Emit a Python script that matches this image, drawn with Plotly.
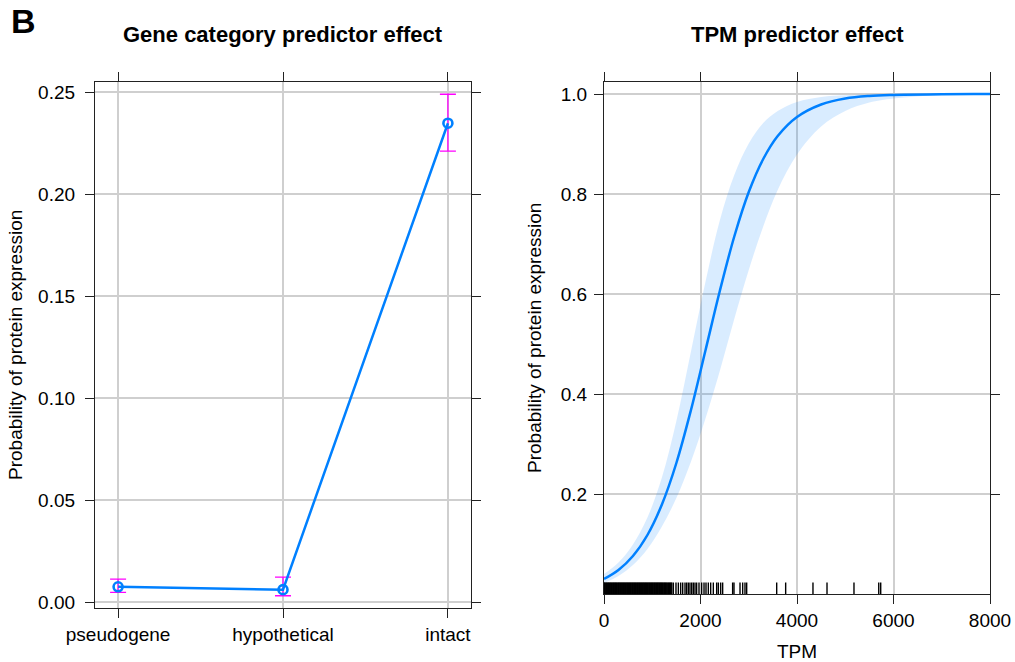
import plotly.graph_objects as go

# ---- Gene category effect (left panel) ----
categories = ["pseudogene", "hypothetical", "intact"]
cat_fit = [0.0076, 0.0062, 0.2348]
cat_lower = [0.0049, 0.0032, 0.2211]
cat_upper = [0.0114, 0.0123, 0.2490]

# ---- TPM effect (right panel) ----
tpm_grid = [0, 300, 600, 900, 1200, 1500, 1800, 2100, 2400, 2700, 3000,
            3300, 3600, 4000, 4500, 5000, 5500, 6000, 7000, 8000]
tpm_fit = [0.030, 0.048, 0.076, 0.118, 0.179, 0.262, 0.367, 0.486, 0.606,
           0.715, 0.804, 0.870, 0.916, 0.954, 0.979, 0.991, 0.996, 0.998,
           0.9997, 0.9999]
tpm_lower = [0.022, 0.036, 0.058, 0.090, 0.135, 0.192, 0.264, 0.350, 0.446,
             0.550, 0.648, 0.735, 0.808, 0.879, 0.935, 0.966, 0.983, 0.991,
             0.998, 0.9994]
tpm_upper = [0.040, 0.063, 0.099, 0.153, 0.233, 0.346, 0.484, 0.623, 0.747,
             0.838, 0.901, 0.942, 0.966, 0.984, 0.994, 0.9975, 0.999, 0.9996,
             1.0, 1.0]

# observed TPM values shown as a rug along the x axis
tpm_rug = [0, 12, 25, 41, 55, 68, 84, 97, 110, 126, 140, 153, 170, 184, 199,
           212, 228, 241, 256, 270, 286, 300, 314, 329, 343, 358, 372, 388,
           401, 417, 430, 446, 460, 475, 489, 504, 519, 533, 548, 562, 577,
           592, 606, 621, 636, 650, 665, 680, 694, 709, 724, 738, 753, 768,
           782, 797, 812, 826, 841, 856, 870, 885, 900, 915, 930, 944, 959,
           974, 989, 1003, 1018, 1033, 1048, 1062, 1077, 1092, 1107, 1121,
           1136, 1151, 1166, 1180, 1195, 1210, 1226, 1241, 1258, 1272, 1290,
           1305, 1322, 1340, 1356, 1374, 1390, 1405,
           1437, 1492, 1541, 1589, 1631, 1679, 1713, 1748, 1782, 1817, 1851,
           1886, 1920, 1969, 2024, 2073, 2114, 2162, 2211, 2266, 2335, 2370,
           2418, 2459, 2666, 2694, 2819, 2874, 2922, 2957, 3579, 3765, 4331,
           4622, 5181, 5694, 5735]

left_y_ticks = [0.00, 0.05, 0.10, 0.15, 0.20, 0.25]
right_y_ticks = [0.2, 0.4, 0.6, 0.8, 1.0]
right_x_ticks = [0, 2000, 4000, 6000, 8000]

# ---- styling ----
W, H = 1015, 662
BLUE = "#0080FF"
BAND = "rgba(0,128,255,0.15)"
MAGENTA = "#FF00FF"
GRID = "#CFCFCF"
FRAME = "#222222"
FONT = "Liberation Sans, Arial, sans-serif"
TICK_SIZE = 19
RUG_HEIGHT = 0.023


def px_x(x):
    return x / W


def px_y(y):
    return 1 - y / H


fig = go.Figure()

# left panel: fitted line with confidence bars
fig.add_trace(go.Scatter(
    x=categories, y=cat_fit, mode="lines+markers",
    line=dict(color=BLUE, width=2.5),
    marker=dict(symbol="circle-open", size=9, color=BLUE,
                line=dict(color=BLUE, width=2.6)),
    error_y=dict(type="data", symmetric=False,
                 array=[u - f for u, f in zip(cat_upper, cat_fit)],
                 arrayminus=[f - l for f, l in zip(cat_fit, cat_lower)],
                 color=MAGENTA, thickness=1.3, width=8),
    xaxis="x", yaxis="y", showlegend=False, hoverinfo="skip",
))

# right panel: confidence band
fig.add_trace(go.Scatter(
    x=tpm_grid, y=tpm_lower, mode="lines", line=dict(width=0, shape="spline"),
    xaxis="x2", yaxis="y2", showlegend=False, hoverinfo="skip",
))
fig.add_trace(go.Scatter(
    x=tpm_grid, y=tpm_upper, mode="lines", line=dict(width=0, shape="spline"),
    fill="tonexty", fillcolor=BAND,
    xaxis="x2", yaxis="y2", showlegend=False, hoverinfo="skip",
))
# fitted curve
fig.add_trace(go.Scatter(
    x=tpm_grid, y=tpm_fit, mode="lines",
    line=dict(color=BLUE, width=2.5, shape="spline"),
    xaxis="x2", yaxis="y2", showlegend=False, hoverinfo="skip",
))
# rug
rug_x, rug_y = [], []
for v in tpm_rug:
    rug_x += [v, v, None]
    rug_y += [0, RUG_HEIGHT, None]
fig.add_trace(go.Scatter(
    x=rug_x, y=rug_y, mode="lines",
    line=dict(color="black", width=1.4, simplify=False),
    xaxis="x2", yaxis="y2", showlegend=False, hoverinfo="skip",
))

axis_common = dict(
    showline=True, linecolor=FRAME, linewidth=1.3, mirror="ticks",
    ticks="outside", ticklen=9, tickwidth=1.3, tickcolor=FRAME,
    showgrid=True, gridcolor=GRID, gridwidth=1.5, zeroline=False,
    tickfont=dict(family=FONT, size=TICK_SIZE, color="black"),
    fixedrange=True, automargin=False,
)

fig.update_layout(
    width=W, height=H,
    margin=dict(l=0, r=0, t=0, b=0),
    paper_bgcolor="white", plot_bgcolor="white",
    xaxis=dict(axis_common, domain=[px_x(95), px_x(471)], anchor="y",
               type="category", range=[-0.14, 2.14]),
    yaxis=dict(axis_common, domain=[px_y(608), px_y(82)], anchor="x",
               range=[-0.0028, 0.255], tickvals=left_y_ticks,
               tickformat=".2f", ticklabelstandoff=6),
    xaxis2=dict(axis_common, domain=[px_x(604), px_x(990)], anchor="y2",
                range=[0, 8000], tickvals=right_x_ticks),
    yaxis2=dict(axis_common, domain=[px_y(594), px_y(82)], anchor="x2",
                range=[0, 1.024], tickvals=right_y_ticks,
                tickformat=".1f", ticklabelstandoff=3),
)

annotations = [
    dict(text="<b>B</b>", x=px_x(23), y=px_y(21), size=34),
    dict(text="<b>Gene category predictor effect</b>", x=px_x(283), y=px_y(35), size=22),
    dict(text="<b>TPM predictor effect</b>", x=px_x(797), y=px_y(35), size=22),
    dict(text="Probability of protein expression", x=px_x(15), y=px_y(345),
         size=TICK_SIZE, angle=-90),
    dict(text="Probability of protein expression", x=px_x(534), y=px_y(338),
         size=TICK_SIZE, angle=-90),
    dict(text="TPM", x=px_x(797), y=px_y(651), size=TICK_SIZE),
]
for a in annotations:
    fig.add_annotation(
        text=a["text"], x=a["x"], y=a["y"], xref="paper", yref="paper",
        xanchor="center", yanchor="middle", showarrow=False,
        textangle=a.get("angle", 0),
        font=dict(family=FONT, size=a["size"], color="black"),
    )

fig.write_html("out.html")
